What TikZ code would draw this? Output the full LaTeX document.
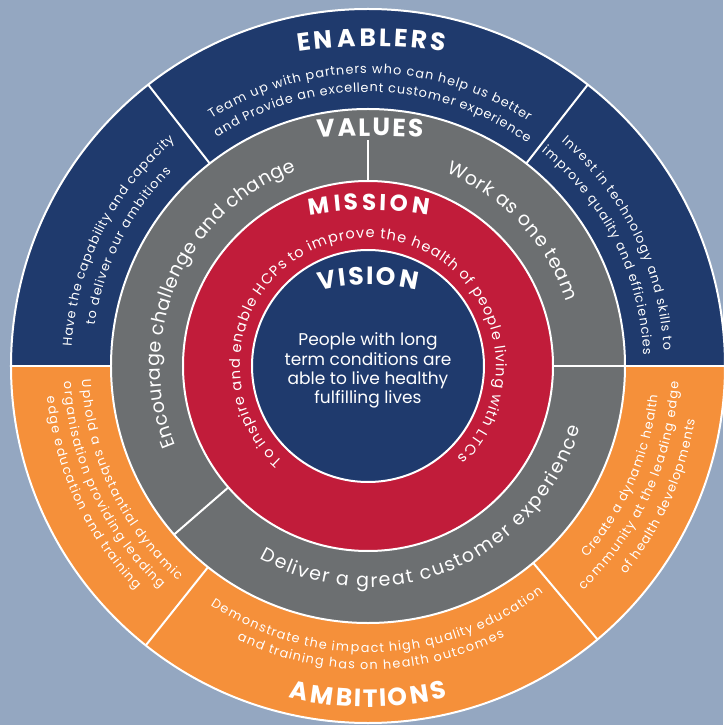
\documentclass[tikz,border=0pt]{standalone}
\usepackage{fontspec}
\setmainfont{Poppins}
\usetikzlibrary{decorations.text}

\definecolor{backblue}{RGB}{148,167,193}
\definecolor{enablenavy}{RGB}{31,58,109}
\definecolor{valuegray}{RGB}{108,111,113}
\definecolor{missionred}{RGB}{193,28,58}
\definecolor{ambitionorange}{RGB}{245,144,58}

\newcommand{\bighead}{\fontsize{25}{30}\selectfont\bfseries}
\newcommand{\midhead}{\fontsize{23}{27}\selectfont\bfseries}
\newcommand{\ringbody}{\fontsize{12.8}{15}\selectfont}
\newcommand{\valuebody}{\fontsize{19}{23}\selectfont}
\newcommand{\missionbody}{\fontsize{14.5}{17}\selectfont}

\begin{document}
\begin{tikzpicture}[
    ring/.style={draw=white, line width=2pt},
    cut/.style={white, line width=2pt},
    fitarc/.style={decorate, font=#1, decoration={text effects along path,
        text effects/.cd, text along path, fit text to path,
        characters={text=white, font=#1}}},
    visionline/.style={anchor=base, text=white, font=\fontsize{17}{20}\selectfont}
  ]
    \useasboundingbox (-368pt,-359pt) rectangle (355pt,366pt);
    \fill[backblue] (-368pt,-359pt) rectangle (355pt,366pt);

    % outer ring: enablers on top, ambitions below
    \fill[enablenavy] (0pt,0pt) -- (0:357pt) arc[start angle=0, end angle=180, radius=357pt] -- cycle;
    \fill[ambitionorange] (0pt,0pt) -- (180:357pt) arc[start angle=180, end angle=360, radius=357pt] -- cycle;
    \draw[ring] (0pt,0pt) circle[radius=357pt];

    % values ring
    \filldraw[valuegray, ring] (0pt,0pt) circle[radius=257pt];
    \foreach \a in {0,52,128,180,231.5,310} {
        \draw[cut] (\a:257pt) -- (\a:357pt);
    }

    % mission ring
    \filldraw[missionred, ring] (0pt,0pt) circle[radius=185pt];
    \foreach \a in {0,221} {
        \draw[cut] (\a:185pt) -- (\a:257pt);
    }
    \draw[cut] (90:185pt) -- (90:226pt);

    % vision disc
    \filldraw[enablenavy, ring] (0pt,0pt) circle[radius=116pt];

    % ring titles
    \path[fitarc=\bighead, decoration={text={ENABLERS}}, shift={(3.5pt,-180pt)}]
        (98.45:500pt) arc[start angle=98.45, end angle=81.55, radius=500pt];
    \path[fitarc=\bighead, decoration={text={VALUES}}, shift={(2pt,-670pt)}]
        (93.38:900pt) arc[start angle=93.38, end angle=86.62, radius=900pt];
    \path[fitarc=\midhead, decoration={text={MISSION}}, shift={(1.5pt,-184pt)}]
        (100.08:340pt) arc[start angle=100.08, end angle=79.92, radius=340pt];
    \path[fitarc=\bighead, decoration={text={VISION}}, shift={(0.3pt,-129pt)}]
        (103.3:210pt) arc[start angle=103.3, end angle=76.7, radius=210pt];
    \path[fitarc=\bighead, decoration={text={AMBITIONS}}]
        (256.52:341pt) arc[start angle=256.52, end angle=283.48, radius=341pt];

    % enablers
    \path[fitarc=\ringbody, decoration={text={Team up with partners who can help us better}}]
        (122.3:292.5pt) arc[start angle=122.3, end angle=56.8, radius=292.5pt];
    \path[fitarc=\ringbody, decoration={text={and Provide an excellent customer experience}}]
        (123.4:274pt) arc[start angle=123.4, end angle=54.4, radius=274pt];
    \path[fitarc=\ringbody, decoration={text={Have the capability and capacity}}]
        (176.3:297pt) arc[start angle=176.3, end angle=130.6, radius=297pt];
    \path[fitarc=\ringbody, decoration={text={to deliver our ambitions}}]
        (171.5:276.5pt) arc[start angle=171.5, end angle=135.3, radius=276.5pt];
    \path[fitarc=\ringbody, decoration={text={Invest in technology and skills to}}]
        (49.2:296pt) arc[start angle=49.2, end angle=3, radius=296pt];
    \path[fitarc=\ringbody, decoration={text={improve quality and efficiencies}}]
        (51:275.5pt) arc[start angle=51, end angle=2.2, radius=275.5pt];

    % ambitions
    \path[fitarc=\ringbody, decoration={text={Uphold a substantial dynamic}}]
        (182.8:286.5pt) arc[start angle=182.8, end angle=228.5, radius=286.5pt];
    \path[fitarc=\ringbody, decoration={text={organisation providing leading}}]
        (183:304.5pt) arc[start angle=183, end angle=227, radius=304.5pt];
    \path[fitarc=\ringbody, decoration={text={edge education and training}}]
        (185.5:322.5pt) arc[start angle=185.5, end angle=224, radius=322.5pt];
    \path[fitarc=\ringbody, decoration={text={Demonstrate the impact high quality education}}]
        (236.6:286.5pt) arc[start angle=236.6, end angle=307.7, radius=286.5pt];
    \path[fitarc=\ringbody, decoration={text={and training has on health outcomes}}]
        (244.4:303.5pt) arc[start angle=244.4, end angle=296.8, radius=303.5pt];
    \path[fitarc=\ringbody, decoration={text={Create a dynamic health}}]
        (-41.2:291pt) arc[start angle=-41.2, end angle=-5.8, radius=291pt];
    \path[fitarc=\ringbody, decoration={text={community at the leading edge}}]
        (-46.2:311pt) arc[start angle=-46.2, end angle=-2.9, radius=311pt];
    \path[fitarc=\ringbody, decoration={text={of health developments}}]
        (-39:331.5pt) arc[start angle=-39, end angle=-9.4, radius=331.5pt];

    % values
    \path[fitarc=\valuebody, decoration={text={Work as one team}}]
        (68:208pt) arc[start angle=68, end angle=18, radius=208pt];
    \path[fitarc=\valuebody, decoration={text={Encourage challenge and change}}]
        (202.5:208pt) arc[start angle=202.5, end angle=110.2, radius=208pt];
    \path[fitarc=\valuebody, decoration={text={Deliver a great customer experience}}]
        (240.7:221pt) arc[start angle=240.7, end angle=343.9, radius=221pt];

    % mission
    \path[fitarc=\missionbody, decoration={text={To inspire and enable HCPs to improve the health of people living with LTCs}}]
        (228:128pt) arc[start angle=228, end angle=-45.6, radius=128pt];

    % vision
    \foreach \txt [count=\k] in {People with long, term conditions are, able to live healthy, fulfilling lives} {
        \pgfmathsetmacro{\liney}{20-19.1*(\k-1)}
        \node[visionline] (vision\k) at (0pt,\liney pt) {\txt};
    }
\end{tikzpicture}
\end{document}
